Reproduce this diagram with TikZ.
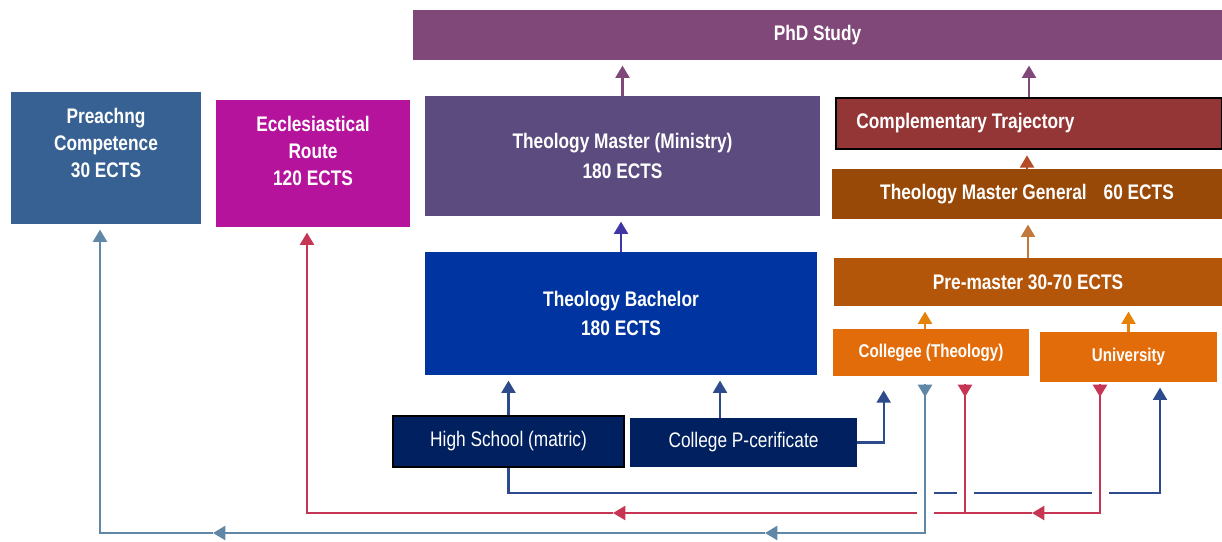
\documentclass[tikz,border=0pt]{standalone}
\usepackage{fontspec}
\setmainfont{Liberation Sans}[FakeStretch=0.82]
\usetikzlibrary{arrows.meta,positioning}

\definecolor{phdcol}{HTML}{7F4878}
\definecolor{preachcol}{HTML}{376192}
\definecolor{ecclcol}{HTML}{B5139B}
\definecolor{ministrycol}{HTML}{5B4B7E}
\definecolor{bachelorcol}{HTML}{0034A0}
\definecolor{complcol}{HTML}{943635}
\definecolor{generalcol}{HTML}{984807}
\definecolor{premastercol}{HTML}{B4560A}
\definecolor{entrycol}{HTML}{E36C0A}
\definecolor{navycol}{HTML}{002060}
\definecolor{navyln}{HTML}{2C4A8C}
\definecolor{redln}{HTML}{C73555}
\definecolor{steelln}{HTML}{6087A6}

\begin{document}
\begin{tikzpicture}[x=0.02cm,y=-0.02cm,
	box/.style={rectangle, inner sep=0pt, text=white, font=\bfseries\fontsize{12}{15}\selectfont, align=center},
	smallbox/.style={box, font=\bfseries\fontsize{10.5}{12}\selectfont},
	thinbox/.style={box, font=\fontsize{12}{15}\selectfont},
	boxtxt/.style={text=white, font=\bfseries\fontsize{12}{15.2}\selectfont, align=center, inner sep=0pt},
	up/.style={-{Triangle[width=8pt,length=7pt]}, line width=1.2pt, shorten >=3pt},
	link/.style={-{Triangle[width=8pt,length=7pt]}, line width=1.2pt},
	plain/.style={line width=1.2pt}]

	\useasboundingbox (0,0) rectangle (1222,541);

	% boxes
	\node[box, fill=phdcol, minimum width=16.18cm, minimum height=1cm] (phd) at (817.5,35) {PhD Study};
	\node[box, fill=preachcol, minimum width=3.8cm, minimum height=2.64cm] (preach) at (106,158) {};
	\node[boxtxt] (preachtxt) at ([yshift=0.3cm]preach.center) {Preachng\\Competence\\30 ECTS};
	\node[box, fill=ecclcol, minimum width=3.88cm, minimum height=2.54cm] (eccl) at (313,163.5) {};
	\node[boxtxt] (eccltxt) at ([yshift=0.25cm]eccl.center) {Ecclesiastical\\Route\\120 ECTS};
	\node[box, fill=ministrycol, minimum width=7.9cm, minimum height=2.4cm] (ministry) at (622.5,156) {Theology Master (Ministry)\\[2.5pt]180 ECTS};
	\node[box, fill=bachelorcol, minimum width=7.84cm, minimum height=2.46cm] (bachelor) at (621,313.5) {Theology Bachelor\\[2pt]180 ECTS};
	\node[box, fill=complcol, draw=black, line width=1.2pt, minimum width=7.72cm, minimum height=1.02cm] (compl) at (1029,123.5) {};
	\node[boxtxt, anchor=west] (compltxt) at ([xshift=0.42cm]compl.west) {Complementary Trajectory};
	\node[box, fill=generalcol, minimum width=7.8cm, minimum height=1cm] (general) at (1027,194) {Theology Master General\hspace{0.8em}60 ECTS};
	\node[box, fill=premastercol, minimum width=7.76cm, minimum height=0.96cm] (premaster) at (1028,282) {Pre-master 30-70 ECTS};
	\node[smallbox, fill=entrycol, minimum width=3.92cm, minimum height=0.94cm] (collegee) at (931,352.5) {Collegee (Theology)};
	\node[smallbox, fill=entrycol, minimum width=3.54cm, minimum height=1cm] (univ) at (1128.5,357) {University};
	\node[thinbox, fill=navycol, draw=black, line width=1.2pt, minimum width=4.62cm, minimum height=1.02cm] (school) at (508.5,441.5) {High School (matric)};
	\node[thinbox, fill=navycol, minimum width=4.54cm, minimum height=0.98cm] (pcert) at (743.5,442.5) {College P-cerificate};

	% upward steps
	\draw[up, phdcol] (ministry.north) -- (ministry.north |- phd.south);
	\draw[up, phdcol] (compl.north) -- (compl.north |- phd.south);
	\draw[up, ministrycol!70!blue] (bachelor.north) -- (bachelor.north |- ministry.south);
	\draw[up, complcol!70!orange] (general.north) -- (general.north |- compl.south);
	\draw[up, premastercol!80!white] (premaster.north) -- (premaster.north |- general.south);
	\draw[up, entrycol!85!yellow] ([xshift=-0.12cm]collegee.north) -- ([xshift=-0.12cm]collegee.north |- premaster.south);
	\draw[up, entrycol!85!yellow] (univ.north) -- (univ.north |- premaster.south);
	\draw[up, navyln] (school.north) -- (school.north |- bachelor.south);
	\draw[up, navyln] ([xshift=-0.47cm]pcert.north) -- ([xshift=-0.47cm]pcert.north |- bachelor.south);
	\draw[up, navyln, shorten >=8pt] (pcert.east) -| ([xshift=1.02cm]collegee.south west);

	% bottom routes
	\coordinate (navyR) at (1160,493);
	\draw[up, navyln] (school.south) |- (navyR) -- (navyR |- univ.south);
	\foreach \p in {(925,493),(965,493),(1100,493)}
		\fill[white] \p +(-8.5,-4) rectangle +(8.5,4);

	\coordinate (redA) at (965,384);
	\coordinate (redB) at (1100,384);
	\coordinate (redJoin) at (965,513);
	\coordinate (redR) at (1100,513);
	\coordinate (redM1) at (1032,513);
	\coordinate (redM2) at (613,513);
	\draw[link, redln] (redA) -- ++(0,13);
	\draw[link, redln] (redB) -- ++(0,13);
	\draw[plain, redln] (redA) -- (redJoin);
	\draw[link, redln] (redB) -- (redR) -- (redM1);
	\draw[link, redln] (redM1) -- (redM2);
	\draw[up, redln] (redM2) -| ([xshift=-0.12cm]eccl.south);
	\fill[white] (925,513) +(-8.5,-4) rectangle +(8.5,4);

	\coordinate (steelA) at (925,384);
	\coordinate (steelLow) at (925,533);
	\coordinate (steelM1) at (765,533);
	\coordinate (steelM2) at (213,533);
	\draw[link, steelln] (steelA) -- ++(0,13);
	\draw[link, steelln] (steelA) -- (steelLow) -- (steelM1);
	\draw[link, steelln] (steelM1) -- (steelM2);
	\draw[up, steelln] (steelM2) -| ([xshift=-0.12cm]preach.south);
\end{tikzpicture}
\end{document}
